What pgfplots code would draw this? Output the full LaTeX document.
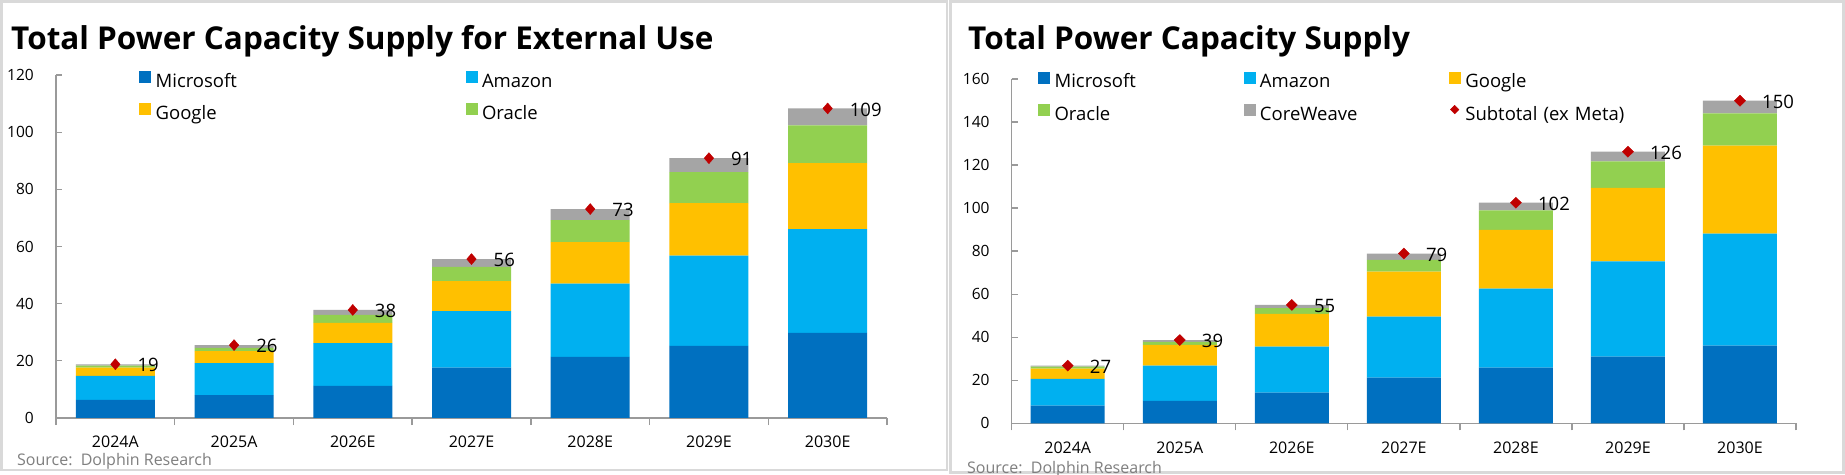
\documentclass[border=0pt]{standalone}
\usepackage{pgfplots}
\pgfplotsset{compat=1.18}
\usepackage{pgfplotstable}
\usepackage{fontspec}
\setmainfont{Open Sans}
\definecolor{msblue}{HTML}{0070C0}
\definecolor{amzblue}{HTML}{00B0F0}
\definecolor{goog}{HTML}{FFC000}
\definecolor{orcl}{HTML}{92D050}
\definecolor{cwgray}{HTML}{A5A5A5}
\definecolor{markred}{HTML}{C00000}
\definecolor{axisgray}{HTML}{9A9A9A}
\definecolor{panelgray}{HTML}{D9D9D9}
\definecolor{srcgray}{HTML}{7F7F7F}

\pgfplotstableread{
x ms amz goo orc cw tot lab
0 6.3 8.4 2.9 0.7 0.5 18.8 19
1 8.0 11.2 4.2 1.1 1.0 25.5 26
2 11.2 15.0 7.1 2.8 1.7 37.8 38
3 17.6 19.8 10.5 5.0 2.7 55.6 56
4 21.4 25.6 14.5 7.7 3.9 73.1 73
5 25.2 31.6 18.4 10.8 4.9 90.9 91
6 29.8 36.3 23.1 13.2 5.9 108.3 109
}\leftdata

\pgfplotstableread{
x ms amz goo orc cw tot lab
0 8.2 12.4 4.8 0.9 0.5 26.8 27
1 10.4 16.4 9.6 1.4 0.9 38.7 39
2 14.2 21.4 15.2 2.7 1.5 55.0 55
3 21.2 28.4 20.9 5.5 2.9 78.9 79
4 25.9 36.7 27.3 9.0 3.6 102.5 102
5 31.0 44.2 34.2 12.3 4.5 126.2 126
6 36.1 52.1 40.8 15.0 5.9 149.9 150
}\rightdata

\pgfplotsset{
  barbase/.style={
    scale only axis,
    xmin=-0.5, xmax=6.5, ymin=0,
    xtick={0,...,6},
    xticklabels={2024A,2025A,2026E,2027E,2028E,2029E,2030E},
    minor xtick={-0.5,0.5,...,6.5},
    axis x line*=bottom, axis y line*=left,
    axis line style={draw=axisgray, line width=1.3pt, -},
    tick style={draw=axisgray, line width=1.3pt},
    major x tick style={draw=none},
    minor x tick style={yshift=-7pt},
    tick align=inside,
    major tick length=6pt, minor tick length=7pt,
    /pgf/number format/assume math mode=true,
    yticklabel style={font=\fontsize{15.5}{18}\selectfont, inner sep=0pt, xshift=-22pt, anchor=east},
    xticklabel style={font=\fontsize{16}{19}\selectfont, inner sep=0pt, anchor=center, yshift=-24pt},
    ybar stacked,
    clip=false,
  },
  overbase/.style={
    scale only axis,
    xmin=-0.5, xmax=6.5, ymin=0,
    hide axis, clip=false,
    legend cell align=left,
    legend style={draw=none, fill=none, inner sep=0pt, anchor=north west,
      font=\fontsize{18.5}{22}\selectfont, row sep=12pt,
      nodes={inner sep=0pt, text height=13pt, text depth=4pt, align=left},
      /tikz/every odd column/.append style={column sep=5pt}},
  },
  dmark/.style={only marks, mark=diamond*, mark size=5.5pt,
    mark options={draw=markred, fill=markred, xscale=#1},
    nodes near coords, point meta=explicit symbolic,
    nodes near coords style={anchor=west, inner sep=0pt, xshift=22pt, yshift=-1pt,
      font=\fontsize{18.5}{22}\selectfont, text=black}},
}

\begin{document}
\begin{tikzpicture}
\useasboundingbox (0,0) rectangle (1845pt,474pt);
\fill[white] (0,0) rectangle (1845pt,474pt);
% panels
\draw[panelgray, line width=2.5pt] (1.5pt,4pt) rectangle (947pt,472.5pt);
\draw[panelgray, line width=2.5pt] (950.5pt,1.5pt) rectangle (1843.5pt,472.5pt);

% titles
\node[anchor=base west, inner sep=0pt, font=\fontsize{31.5}{36}\bfseries\selectfont] at (11pt,424pt) {Total Power Capacity Supply for External Use};
\node[anchor=base west, inner sep=0pt, font=\fontsize{31.5}{36}\bfseries\selectfont] at (968pt,424pt) {Total Power Capacity Supply};

% sources
\node[anchor=west, inner sep=0pt, text=srcgray, font=\fontsize{16}{19}\selectfont] at (17pt,12.5pt) {Source:\ \ Dolphin Research};
\node[anchor=west, inner sep=0pt, text=srcgray, font=\fontsize{16}{19}\selectfont] at (967pt,5pt) {Source:\ \ Dolphin Research};

% LEFT bars
\begin{axis}[barbase, at={(56pt,56pt)}, anchor=south west,
  width=831pt, height=343pt, ymax=120, ytick={0,20,...,120}, bar width=79pt]
\addplot[fill=msblue, draw=none] table[x=x, y=ms] {\leftdata};
\addplot[fill=amzblue, draw=none] table[x=x, y=amz] {\leftdata};
\addplot[fill=goog, draw=none] table[x=x, y=goo] {\leftdata};
\addplot[fill=orcl, draw=none] table[x=x, y=orc] {\leftdata};
\addplot[fill=cwgray, draw=none] table[x=x, y=cw] {\leftdata};
\end{axis}
% LEFT overlay
\begin{axis}[overbase, at={(56pt,56pt)}, anchor=south west,
  width=831pt, height=343pt, ymax=120,
  legend columns=2,
  legend style={at={(0.0999,1.0128)}, nodes={text width=310pt}}]
\addlegendimage{legend image code/.code={\fill[msblue] (0pt,0.5pt) rectangle (11pt,11.5pt);}}
\addlegendimage{legend image code/.code={\fill[amzblue] (0pt,0.5pt) rectangle (11pt,11.5pt);}}
\addlegendimage{legend image code/.code={\fill[goog] (0pt,0.5pt) rectangle (11pt,11.5pt);}}
\addlegendimage{legend image code/.code={\fill[orcl] (0pt,0.5pt) rectangle (11pt,11.5pt);}}
\addplot[dmark=1.15, forget plot] table[x=x, y=tot, meta=lab] {\leftdata};
\legend{Microsoft, Amazon, Google, Oracle}
\end{axis}

% RIGHT bars
\begin{axis}[barbase, at={(1011.7pt,50.7pt)}, anchor=south west,
  width=784.3pt, height=344.3pt, ymax=160, ytick={0,20,...,160}, bar width=74pt]
\addplot[fill=msblue, draw=none] table[x=x, y=ms] {\rightdata};
\addplot[fill=amzblue, draw=none] table[x=x, y=amz] {\rightdata};
\addplot[fill=goog, draw=none] table[x=x, y=goo] {\rightdata};
\addplot[fill=orcl, draw=none] table[x=x, y=orc] {\rightdata};
\addplot[fill=cwgray, draw=none] table[x=x, y=cw] {\rightdata};
\end{axis}
% RIGHT overlay
\begin{axis}[overbase, at={(1011.7pt,50.7pt)}, anchor=south west,
  width=784.3pt, height=344.3pt, ymax=160,
  legend columns=3,
  legend style={at={(0.0335,1.0215)}, nodes={text width=189pt}}]
\addlegendimage{legend image code/.code={\fill[msblue] (0pt,0.5pt) rectangle (11pt,11.5pt);}}
\addlegendimage{legend image code/.code={\fill[amzblue] (0pt,0.5pt) rectangle (11pt,11.5pt);}}
\addlegendimage{legend image code/.code={\fill[goog] (0pt,0.5pt) rectangle (11pt,11.5pt);}}
\addlegendimage{legend image code/.code={\fill[orcl] (0pt,0.5pt) rectangle (11pt,11.5pt);}}
\addlegendimage{legend image code/.code={\fill[cwgray] (0pt,0.5pt) rectangle (11pt,11.5pt);}}
\addplot[dmark=1.35,
  legend image code/.code={\fill[markred] (5.5pt,1.8pt) -- (9.8pt,6.1pt) -- (5.5pt,10.4pt) -- (1.2pt,6.1pt) -- cycle;}]
  table[x=x, y=tot, meta=lab] {\rightdata};
\legend{Microsoft, Amazon, Google, Oracle, CoreWeave, Subtotal (ex Meta)}
\end{axis}
\end{tikzpicture}
\end{document}
